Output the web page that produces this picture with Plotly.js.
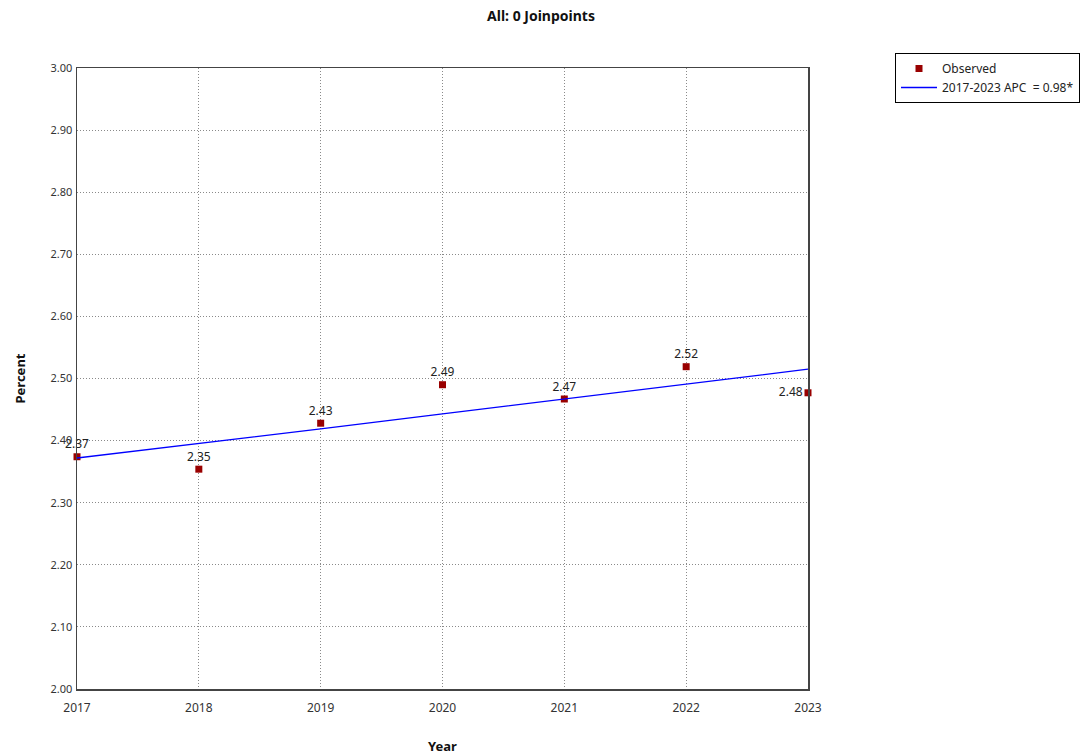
<!DOCTYPE html>
<html>
<head>
<meta charset="utf-8">
<script src="https://cdn.plot.ly/plotly-3.0.1.min.js"></script>
<style>html,body{margin:0;padding:0;background:#fff;}#chart{width:1082px;height:755px;}</style>
</head>
<body>
<div id="chart"></div>
<script>
const years = [2017, 2018, 2019, 2020, 2021, 2022, 2023];
const observed = [2.374, 2.354, 2.428, 2.490, 2.467, 2.519, 2.477];
const observedLabels = ["2.37", "2.35", "2.43", "2.49", "2.47", "2.52", "2.48"];
const fitted = [2.372, 2.395, 2.419, 2.443, 2.467, 2.491, 2.515];
const yTicks = [2.0, 2.1, 2.2, 2.3, 2.4, 2.5, 2.6, 2.7, 2.8, 2.9, 3.0];
const fitName = "2017-2023 APC&nbsp; = 0.98*";

const FONT = "Noto Sans, Open Sans, sans-serif";
const labelPos = years.map((y, i) => i === years.length - 1 ? "middle left" : "top center");

const traces = [
  {
    x: years, y: observed, mode: "markers+text", type: "scatter", name: "Observed",
    text: observedLabels, textposition: labelPos,
    textfont: {family: FONT, size: 12, color: "#222"},
    marker: {symbol: "square", size: 7, color: "#990000"},
    cliponaxis: false
  },
  {
    x: years, y: fitted, mode: "lines", type: "scatter", name: fitName,
    line: {color: "#0000ff", width: 1.3},
    cliponaxis: false
  }
];

const layout = {
  width: 1082, height: 755,
  margin: {l: 77, r: 274, t: 68, b: 66, autoexpand: false},
  paper_bgcolor: "#fff", plot_bgcolor: "#fff",
  font: {family: FONT, size: 11, color: "#333"},
  title: {text: "<b>All: 0 Joinpoints</b>", x: 0.5, xanchor: "center", y: 0.985, yanchor: "top",
          font: {family: FONT, size: 14, color: "#111"}},
  xaxis: {
    range: [2017, 2023], tickvals: years, ticktext: years.map(String),
    showgrid: true, gridcolor: "#8a8a8a", griddash: "1px,2px", gridwidth: 1,
    showline: true, linecolor: "#444", linewidth: 1.5, mirror: true,
    zeroline: false, ticks: "", ticklabelstandoff: 7,
    tickfont: {family: FONT, size: 12, color: "#333"},
    title: {text: "<b>Year</b>", font: {family: FONT, size: 13, color: "#111"}, standoff: 29}
  },
  yaxis: {
    range: [2.0, 3.0], tickvals: yTicks, tickformat: ".2f",
    showgrid: true, gridcolor: "#8a8a8a", griddash: "1px,2px", gridwidth: 1,
    showline: true, linecolor: "#444", linewidth: 1.5, mirror: true,
    zeroline: false, ticks: "", ticklabelstandoff: 1,
    tickfont: {family: FONT, size: 11, color: "#333"},
    title: {text: "<b>Percent</b>", font: {family: FONT, size: 13, color: "#111"}, standoff: 22}
  },
  showlegend: true,
  legend: {
    xref: "container", yref: "container",
    x: 895 / 1082, y: 1 - 53 / 755, xanchor: "left", yanchor: "top",
    bgcolor: "#fff", bordercolor: "#000", borderwidth: 1,
    font: {family: FONT, size: 12, color: "#222"},
    tracegroupgap: 0, itemwidth: 36
  }
};

Plotly.newPlot("chart", traces, layout, {displayModeBar: false, staticPlot: true});
</script>
</body>
</html>
